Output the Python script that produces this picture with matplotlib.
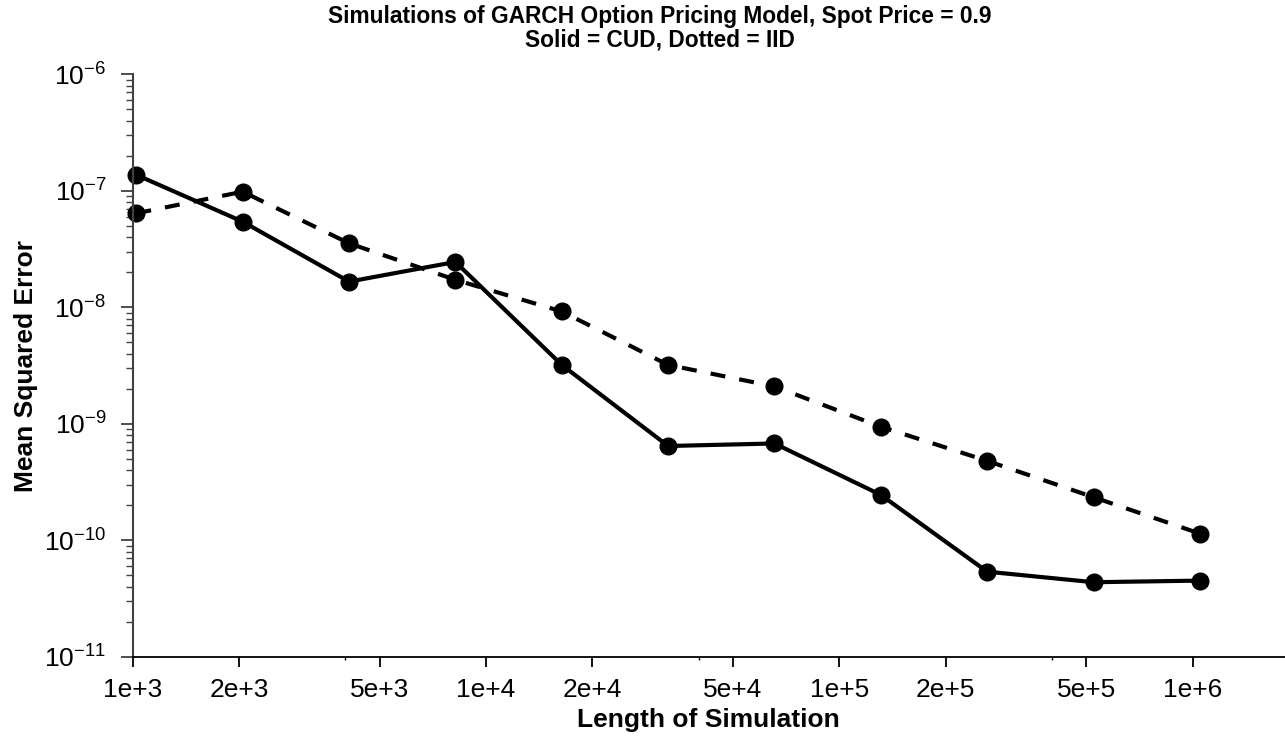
import matplotlib
matplotlib.use("Agg")
import matplotlib.pyplot as plt
from matplotlib.ticker import FixedLocator, FixedFormatter, LogLocator, LogFormatterMathtext, NullFormatter

plt.rcParams['font.family'] = ['Liberation Sans', 'DejaVu Sans']
plt.rcParams['mathtext.fontset'] = 'custom'
plt.rcParams['mathtext.rm'] = 'Liberation Sans'
plt.rcParams['mathtext.it'] = 'Liberation Sans'
plt.rcParams['mathtext.default'] = 'regular'

# Data
sim_length = [2 ** k for k in range(10, 21)]
mse_cud = [1.37e-7, 5.43e-8, 1.66e-8, 2.45e-8, 3.20e-9, 6.44e-10,
           6.77e-10, 2.45e-10, 5.37e-11, 4.36e-11, 4.50e-11]
mse_iid = [6.41e-8, 9.82e-8, 3.54e-8, 1.72e-8, 9.20e-9, 3.20e-9,
           2.09e-9, 9.42e-10, 4.80e-10, 2.34e-10, 1.14e-10]
xtick_values = [1e3, 2e3, 5e3, 1e4, 2e4, 5e4, 1e5, 2e5, 5e5, 1e6]
xtick_labels = ['1e+3', '2e+3', '5e+3', '1e+4', '2e+4', '5e+4', '1e+5', '2e+5', '5e+5', '1e+6']
xminor_values = [4e3, 4e4, 4e5]
ytick_values = [1e-11, 1e-10, 1e-9, 1e-8, 1e-7, 1e-6]

W, H = 1285, 742
fig = plt.figure(figsize=(W / 100, H / 100), dpi=100)
ax_left, ax_right = 132.7, 1285
ax_top, ax_bottom = 74.3, 656.7
aw, ah = ax_right - ax_left, ax_bottom - ax_top
ax = fig.add_axes([ax_left / W, 1 - ax_bottom / H, aw / W, ah / H])

ax.plot(sim_length, mse_cud, color='black', lw=3, marker='o', ms=12)
ax.plot(sim_length, mse_iid, color='black', lw=3, marker='o', ms=12, linestyle=(0, (3.6, 3.4)))

ax.set_xscale('log')
ax.set_yscale('log')
ax.set_xlim(1000, 1000 * 10 ** (aw / 353.3))
ax.set_ylim(1e-11, 1e-6)

ax.xaxis.set_major_locator(FixedLocator(xtick_values))
ax.xaxis.set_major_formatter(FixedFormatter(xtick_labels))
ax.xaxis.set_minor_locator(FixedLocator(xminor_values))
ax.xaxis.set_minor_formatter(NullFormatter())

ax.yaxis.set_major_locator(FixedLocator(ytick_values))
ax.yaxis.set_major_formatter(LogFormatterMathtext())
ax.yaxis.set_minor_locator(LogLocator(base=10, subs=range(2, 10), numticks=20))
ax.yaxis.set_minor_formatter(NullFormatter())

for s in ['top', 'right']:
    ax.spines[s].set_visible(False)
ax.spines['left'].set_color('#404040')
ax.spines['left'].set_linewidth(1.5)
ax.spines['bottom'].set_color('black')
ax.spines['bottom'].set_linewidth(1.3)

ax.tick_params(axis='x', which='major', direction='out', length=7, width=1.3, pad=8, labelsize=19, colors='black')
ax.tick_params(axis='x', which='minor', direction='out', length=2.5, width=1.0)
ax.tick_params(axis='y', which='major', direction='out', length=9, width=1.3, pad=10, labelsize=19, color='#404040', labelcolor='black')
ax.tick_params(axis='y', which='minor', direction='out', length=5, width=1.0, color='#404040')

ax.set_xlabel('Length of Simulation', fontsize=19, fontweight='bold')
ax.xaxis.label.set_va('center')
ax.xaxis.set_label_coords(0.5 + (660 - 709) / aw * 0 , -(720 - ax_bottom) / ah)
ax.set_ylabel('Mean Squared Error', fontsize=19, fontweight='bold')
ax.yaxis.label.set_va('center')
ax.yaxis.set_label_coords(-(ax_left - 26) / aw, 0.5)

fig.text(660 / W, 1 - 17 / H, 'Simulations of GARCH Option Pricing Model, Spot Price = 0.9',
         ha='center', va='center', fontsize=16.4, fontweight='bold')
fig.text(660 / W, 1 - 40 / H, 'Solid = CUD, Dotted = IID',
         ha='center', va='center', fontsize=16.4, fontweight='bold')

for line in ax.lines:
    line.set_clip_on(False)

fig.savefig('out.png', dpi=100)
